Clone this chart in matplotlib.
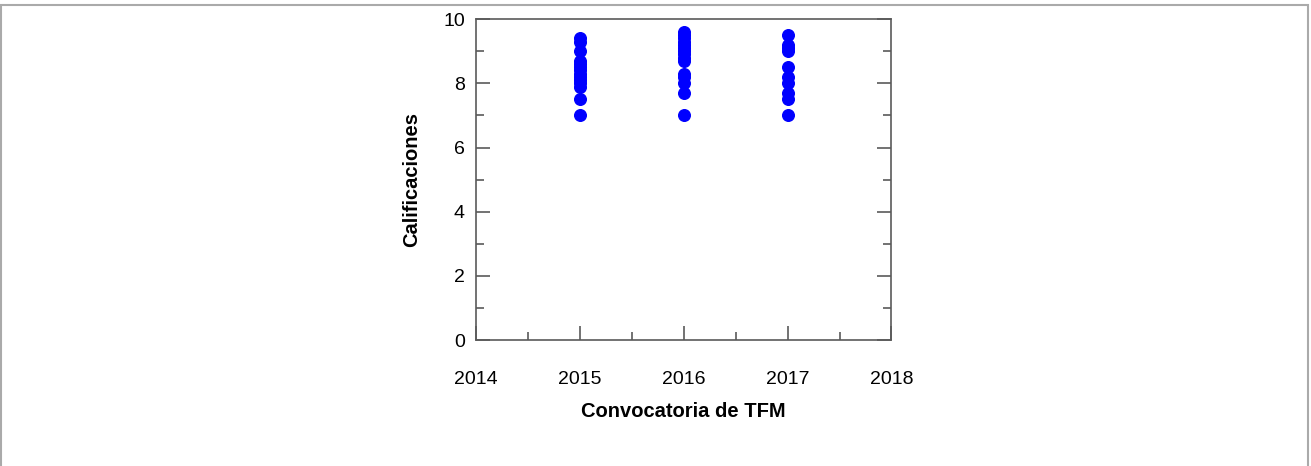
import matplotlib.pyplot as plt
from matplotlib.patches import Rectangle
from matplotlib.ticker import MultipleLocator

plt.rcParams['font.family'] = ['Liberation Sans', 'DejaVu Sans']

# calificaciones por convocatoria
notas_2015 = [9.4, 9.3, 9.0, 8.7, 8.6, 8.5, 8.4, 8.3, 8.2, 8.1, 8.0, 7.9, 7.5, 7.0]
notas_2016 = [9.6, 9.5, 9.4, 9.3, 9.2, 9.1, 9.0, 8.9, 8.8, 8.7, 8.3, 8.2, 8.0, 7.7, 7.0]
notas_2017 = [9.5, 9.2, 9.1, 9.0, 8.5, 8.2, 8.0, 7.7, 7.5, 7.0]

years = [2015, 2016, 2017]
notas = [notas_2015, notas_2016, notas_2017]

fig = plt.figure(figsize=(13.11, 4.66), dpi=100)
ax = fig.add_axes([0.363, 0.270, 0.317, 0.689])

for yr, vals in zip(years, notas):
    ax.scatter([yr] * len(vals), vals, s=70, color='#0000ff', zorder=3, clip_on=False)

ax.set_xlim(2014, 2018)
ax.set_ylim(0, 10)
ax.xaxis.set_major_locator(MultipleLocator(1))
ax.xaxis.set_minor_locator(MultipleLocator(0.5))
ax.yaxis.set_major_locator(MultipleLocator(2))
ax.yaxis.set_minor_locator(MultipleLocator(1))

spine_c = '#5a5a5a'
for s in ax.spines.values():
    s.set_color(spine_c)
    s.set_linewidth(1.2)

ax.tick_params(which='both', direction='in', colors=spine_c, labelcolor='black',
               labelsize=14, left=True, right=True, bottom=True, top=False, width=1.2)
ax.tick_params(which='major', length=10)
ax.tick_params(which='minor', length=6)
ax.tick_params(axis='x', which='major', pad=22)
ax.tick_params(axis='y', which='major', pad=8)

ax.set_xlabel('Convocatoria de TFM', fontsize=14.5, fontweight='bold', labelpad=10)
ax.set_ylabel('Calificaciones', fontsize=14.5, fontweight='bold', labelpad=16)

# marco de la figura
fig.patches.append(Rectangle((1 / 1311, -0.1), 1307 / 1311, 1.1 - 5 / 466,
                             transform=fig.transFigure, fill=False,
                             edgecolor='#aaaaaa', linewidth=1.5))

fig.savefig('out.png', dpi=100)
